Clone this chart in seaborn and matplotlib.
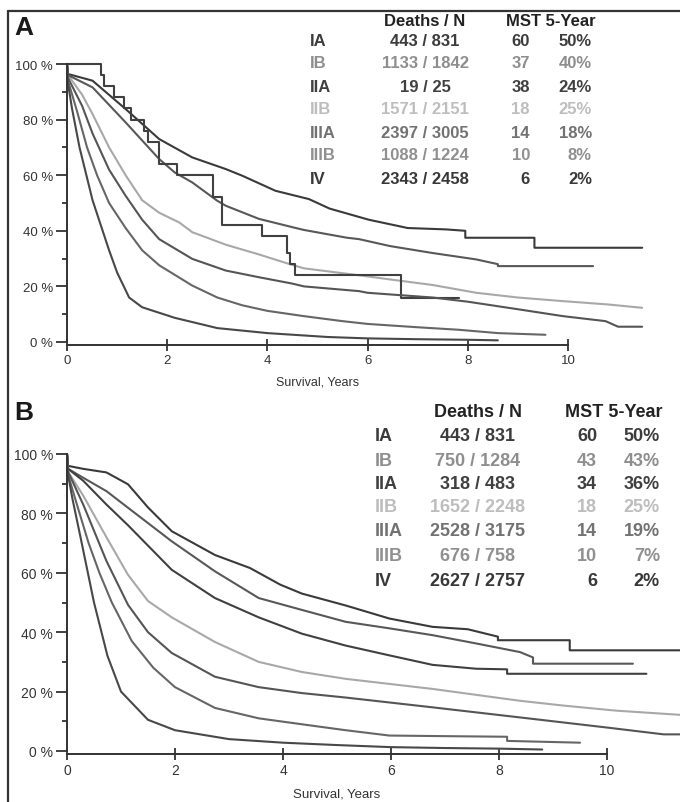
import matplotlib
matplotlib.use("Agg")
import matplotlib.pyplot as plt
from matplotlib.lines import Line2D
import seaborn as sns
import pandas as pd

sns.set_style("white")
plt.rcParams['font.family'] = ['Liberation Sans Narrow', 'Liberation Sans', 'DejaVu Sans']

# ---------------- data ----------------
stages = ["IA", "IB", "IIA", "IIB", "IIIA", "IIIB", "IV"]

# Panel A table
A_deaths_n = ["443 / 831", "1133 / 1842", "19 / 25", "1571 / 2151", "2397 / 3005", "1088 / 1224", "2343 / 2458"]
A_mst = ["60", "37", "38", "18", "14", "10", "6"]
A_5yr = ["50%", "40%", "24%", "25%", "18%", "8%", "2%"]

# Panel B table
B_deaths_n = ["443 / 831", "750 / 1284", "318 / 483", "1652 / 2248", "2528 / 3175", "676 / 758", "2627 / 2757"]
B_mst = ["60", "43", "34", "18", "14", "10", "6"]
B_5yr = ["50%", "43%", "36%", "25%", "19%", "7%", "2%"]

# Panel A curves (years, survival %)
A_IA_t = [0, 0.02, 0.51, 1.17, 1.84, 2.5, 3.17, 3.5, 4.16, 4.83, 5.24, 6.02, 6.8, 7.57, 7.95, 7.95, 9.33, 9.33, 11.48]
A_IA_s = [100, 96.4, 94, 83.8, 73, 66.4, 62.2, 59.8, 54.4, 51.4, 48, 44, 41, 40.5, 40, 37.5, 37.5, 33.9, 33.9]
A_IB_t = [0, 0.02, 0.51, 1.17, 1.84, 2.15, 2.5, 3.0, 3.17, 3.83, 4.5, 4.73, 5.59, 5.83, 6.45, 7.3, 8.17, 8.6, 8.6, 10.5]
A_IB_s = [100, 96, 91.6, 79, 65.8, 61, 57.4, 50.8, 49, 44.3, 41.3, 40.3, 37.5, 37, 34.5, 32, 29.7, 28, 27.3, 27.3]
A_IIA_t = [0, 0.67, 0.74, 0.94, 1.14, 1.27, 1.54, 1.62, 1.84, 2.2, 2.91, 3.1, 3.9, 4.4, 4.45, 4.55, 6.66, 7.82]
A_IIA_s = [100, 96, 92, 88, 84, 80, 76, 72, 64, 60, 52, 42, 38, 32, 28, 24, 16, 16]
A_IIB_t = [0, 0.02, 0.3, 0.51, 0.84, 1.17, 1.5, 1.84, 2.24, 2.5, 3.17, 3.83, 4.5, 4.73, 5.83, 6.45, 7.3, 8.17, 9.0, 9.9, 10.8, 11.48]
A_IIB_s = [100, 96, 89, 82, 70, 60, 51, 46.5, 43, 39.5, 35, 31.5, 27.7, 26.5, 24, 22.5, 20.5, 17.7, 16, 14.7, 13.5, 12.3]
A_IIIA_t = [0, 0.02, 0.3, 0.51, 0.84, 1.17, 1.5, 1.84, 2.5, 3.17, 3.83, 4.5, 4.73, 5.83, 6.0, 7.3, 8.0, 9.03, 9.9, 10.75, 11.0, 11.48]
A_IIIA_s = [100, 95, 85, 75, 62, 52.6, 44, 37, 29.9, 25.7, 23.3, 21, 20, 18.3, 17.7, 16, 14.5, 11.7, 9.3, 7.5, 5.5, 5.5]
A_IIIB_t = [0, 0.02, 0.2, 0.4, 0.6, 0.84, 1.17, 1.5, 1.84, 2.5, 3.0, 3.5, 4.0, 4.73, 5.5, 6.0, 7.0, 7.82, 8.6, 9.55]
A_IIIB_s = [100, 94, 83, 70, 60, 50, 41, 33, 27.6, 20.3, 16, 13.2, 11.2, 9.3, 7.5, 6.5, 5.3, 4.4, 3.2, 2.6]
A_IV_t = [0, 0.02, 0.1, 0.25, 0.51, 0.84, 1.0, 1.24, 1.5, 2.15, 3.0, 4.0, 5.2, 6.0, 7.0, 8.0, 8.6]
A_IV_s = [100, 93, 84, 70, 51, 33, 25, 16, 12.5, 8.7, 5, 3.2, 1.8, 1.3, 1.0, 0.8, 0.6]

# Panel B curves (years, survival %)
B_IA_t = [0, 0.02, 0.3, 0.73, 1.13, 1.5, 1.94, 2.74, 3.39, 3.95, 4.35, 5.16, 5.97, 6.77, 7.42, 7.98, 7.98, 9.31, 9.31, 11.5]
B_IA_s = [100, 96, 95, 93.8, 89.8, 82, 74, 66, 61.6, 56, 53, 49, 44.6, 41.8, 41, 38.5, 37.3, 37.3, 33.9, 33.9]
B_IB_t = [0, 0.02, 0.3, 0.73, 1.13, 1.94, 2.74, 3.55, 4.35, 5.16, 5.97, 6.77, 7.58, 8.39, 8.63, 8.63, 10.48]
B_IB_s = [100, 95, 92, 87.5, 81.9, 70.6, 60.5, 51.5, 47.5, 43.5, 41.3, 39, 36.2, 33.3, 31.5, 29.4, 29.4]
B_IIA_t = [0, 0.02, 0.3, 0.73, 1.13, 1.94, 2.74, 3.55, 4.35, 5.16, 5.97, 6.77, 7.58, 8.15, 8.15, 10.73]
B_IIA_s = [100, 95, 91, 83, 76, 61, 51.5, 45, 39.5, 35.5, 32.2, 29, 27.7, 27.5, 26, 26]
B_IIB_t = [0, 0.02, 0.3, 0.73, 1.13, 1.5, 1.94, 2.74, 3.55, 4.35, 5.16, 6.77, 8.39, 9.19, 10.16, 11.5]
B_IIB_s = [100, 94, 86, 72, 59.3, 50.5, 45, 36.7, 30, 26.6, 24.3, 20.9, 16.9, 15.3, 13.6, 12]
B_IIIA_t = [0, 0.02, 0.3, 0.73, 1.13, 1.5, 1.94, 2.74, 3.55, 4.35, 5.16, 6.77, 8.39, 10.0, 11.05, 11.5]
B_IIIA_s = [100, 94, 83, 64, 49.2, 40, 33, 25, 21.5, 19.5, 18, 14.7, 11.3, 7.9, 5.6, 5.6]
B_IIIB_t = [0, 0.02, 0.2, 0.4, 0.6, 0.83, 1.2, 1.6, 2.0, 2.74, 3.55, 4.35, 5.16, 5.97, 7.0, 8.15, 8.15, 9.5]
B_IIIB_s = [100, 93, 82, 70, 60, 50, 37, 28, 21.5, 14.5, 11, 9, 7, 5.2, 5, 4.8, 3.4, 2.8]
B_IV_t = [0, 0.02, 0.1, 0.25, 0.5, 0.75, 1.0, 1.5, 2.0, 3.0, 4.0, 5.0, 6.0, 7.0, 8.0, 8.8]
B_IV_s = [100, 93, 85, 72, 50, 32, 20, 10.5, 7, 4, 2.8, 2, 1.3, 1, 0.8, 0.5]

y_ticks = [0, 20, 40, 60, 80, 100]
y_ticklabels = ["0 %", "20 %", "40 %", "60 %", "80 %", "100 %"]
x_ticks = [0, 2, 4, 6, 8, 10]
x_label = "Survival, Years"

# styles
line_colors = {"IA": "#3a3a3a", "IB": "#585858", "IIA": "#404040", "IIB": "#a8a8a8",
               "IIIA": "#555555", "IIIB": "#666666", "IV": "#484848"}
text_colors = {"IA": "#3c3c3c", "IB": "#8e8e8e", "IIA": "#404040", "IIB": "#bdbdbd",
               "IIIA": "#727272", "IIIB": "#909090", "IV": "#383838"}

W, H = 680, 803
fig = plt.figure(figsize=(W / 100, H / 100), dpi=100)
fig.patch.set_facecolor("white")


def px_axes(x0_px, x_per_year, xmax, y0_px, y_per_pct, ylo=-1.0, yhi=104.0):
    left = x0_px / W
    width = xmax * x_per_year / W
    bottom_px = y0_px + (-ylo) * y_per_pct
    height_px = (yhi - ylo) * y_per_pct
    ax = fig.add_axes([left, (H - bottom_px) / H, width, height_px / H])
    ax.set_xlim(0, xmax)
    ax.set_ylim(ylo, yhi)
    return ax


def draw_panel(ax, curves, tick_fs, step_stages=()):
    for st, (t, s) in curves.items():
        df = pd.DataFrame({"t": t, "s": s})
        kw = {}
        if st in step_stages:
            kw["drawstyle"] = "steps-post"
        sns.lineplot(data=df, x="t", y="s", ax=ax, estimator=None, sort=False,
                     color=line_colors[st], lw=1.5, legend=False, **kw)
    ax.set_facecolor("none")
    for sp in ["top", "right"]:
        ax.spines[sp].set_visible(False)
    for sp in ["left", "bottom"]:
        ax.spines[sp].set_color("#333333")
        ax.spines[sp].set_linewidth(1.4)
    ax.spines["left"].set_bounds(0, 100)
    ax.spines["bottom"].set_bounds(0, 10)
    ax.set_yticks(y_ticks)
    ax.set_yticklabels(y_ticklabels)
    ax.set_yticks([10, 30, 50, 70, 90], minor=True)
    ax.set_xticks(x_ticks)
    ax.set_xticklabels([str(v) for v in x_ticks])
    ax.tick_params(axis="y", which="major", direction="out", length=8, width=1.3,
                   color="#333333", labelsize=tick_fs, labelcolor="#333333", pad=2, left=True)
    ax.tick_params(axis="y", which="minor", direction="out", length=3.5, width=1.3,
                   color="#333333", left=True)
    ax.tick_params(axis="x", which="major", direction="inout", length=9, width=1.3,
                   color="#333333", labelsize=tick_fs, labelcolor="#333333", pad=2, bottom=True)
    ax.set_xlabel("")
    ax.set_ylabel("")


# ---- Panel A ----
axA = px_axes(67, 50.1, 12.2, 343, 2.78)
curvesA = {"IIB": (A_IIB_t, A_IIB_s), "IA": (A_IA_t, A_IA_s), "IB": (A_IB_t, A_IB_s),
           "IIA": (A_IIA_t, A_IIA_s), "IIIA": (A_IIIA_t, A_IIIA_s),
           "IIIB": (A_IIIB_t, A_IIIB_s), "IV": (A_IV_t, A_IV_s)}
draw_panel(axA, curvesA, 9.5, step_stages=("IIA",))

# ---- Panel B ----
axB = px_axes(67, 54.0, 11.35, 752, 2.97)
curvesB = {"IIB": (B_IIB_t, B_IIB_s), "IA": (B_IA_t, B_IA_s), "IB": (B_IB_t, B_IB_s),
           "IIA": (B_IIA_t, B_IIA_s), "IIIA": (B_IIIA_t, B_IIIA_s),
           "IIIB": (B_IIIB_t, B_IIIB_s), "IV": (B_IV_t, B_IV_s)}
draw_panel(axB, curvesB, 10)


def ftext(xp, yp, s, **kw):
    fig.text(xp / W, 1 - yp / H, s, **kw)


# x labels
ftext(318, 383, x_label, ha="center", va="center", fontsize=9, color="#333333")
ftext(337, 795, x_label, ha="center", va="center", fontsize=9.5, color="#333333")

# panel letters
ftext(14, 28, "A", ha="left", va="center", fontsize=19, fontweight="bold", color="#1a1a1a",
      family=["Liberation Sans", "DejaVu Sans"])
ftext(14, 413, "B", ha="left", va="center", fontsize=19, fontweight="bold", color="#1a1a1a",
      family=["Liberation Sans", "DejaVu Sans"])


def table(hdr_y, rows_y, lab_x, dn_x, mst_x, fy_x, mst_hdr_x, dn_list, mst_list, fy_list, fs):
    ftext(dn_x, hdr_y, "Deaths / N", ha="center", va="center", fontsize=fs,
          fontweight="bold", color="#222222")
    ftext(mst_hdr_x, hdr_y, "MST 5-Year", ha="center", va="center", fontsize=fs,
          fontweight="bold", color="#222222")
    for i, st in enumerate(stages):
        c = text_colors[st]
        ftext(lab_x, rows_y[i], st, ha="left", va="center", fontsize=fs, fontweight="bold", color=c)
        ftext(dn_x, rows_y[i], dn_list[i], ha="center", va="center", fontsize=fs, fontweight="bold", color=c)
        ftext(mst_x, rows_y[i], mst_list[i], ha="right", va="center", fontsize=fs, fontweight="bold", color=c)
        ftext(fy_x, rows_y[i], fy_list[i], ha="right", va="center", fontsize=fs, fontweight="bold", color=c)


table(22, [42, 64, 87, 109, 133, 156, 179], 310, 425, 530, 592, 551,
      A_deaths_n, A_mst, A_5yr, 12)
table(413, [437, 462, 485, 508, 532, 557, 582], 375, 478, 597, 660, 614,
      B_deaths_n, B_mst, B_5yr, 13)

# frame lines (top and left)
fig.add_artist(Line2D([8 / W, 1.0], [1 - 12 / H, 1 - 12 / H], transform=fig.transFigure,
                      color="#333333", lw=1.6))
fig.add_artist(Line2D([8 / W, 8 / W], [1 - 12 / H, 0.0], transform=fig.transFigure,
                      color="#333333", lw=1.6))

fig.savefig("out.png", dpi=100, facecolor="white")
